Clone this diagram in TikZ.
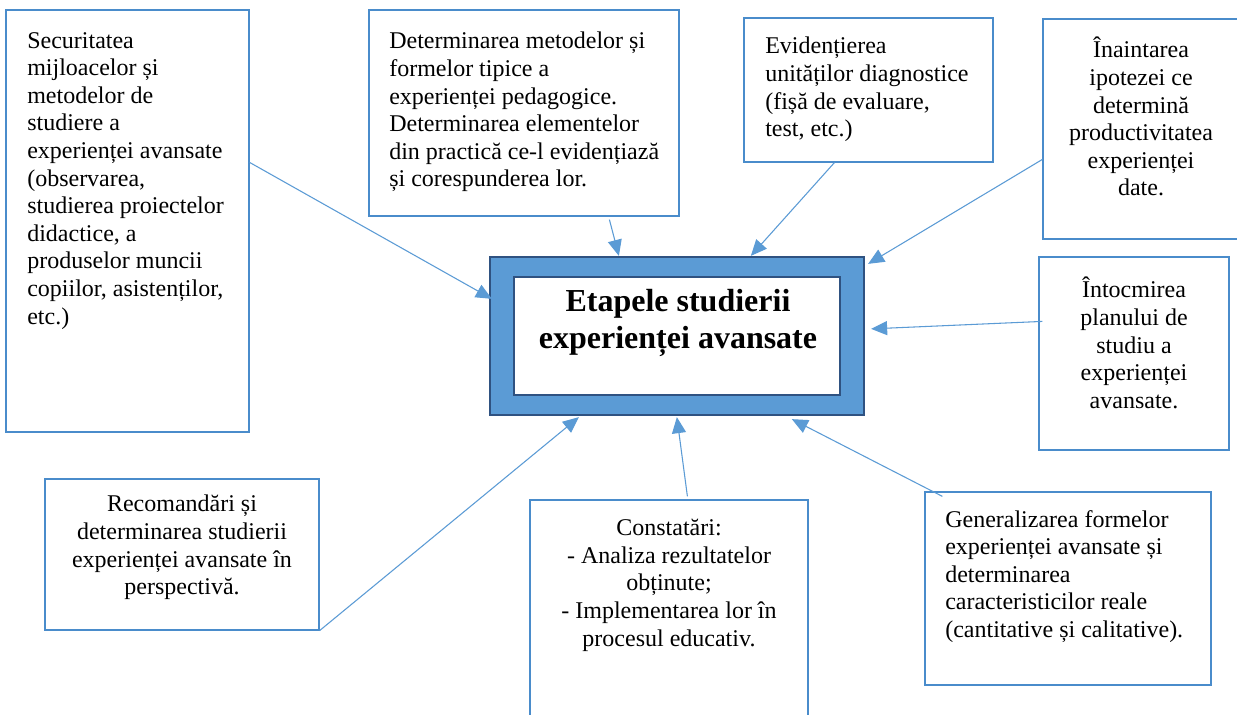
\documentclass[tikz,border=0pt]{standalone}
\usepackage{fontspec}
\setmainfont{Liberation Serif}
\usetikzlibrary{arrows.meta,calc,fit}
\definecolor{boxblue}{HTML}{5B9BD5}
\definecolor{lineblue}{HTML}{4A8CCB}
\definecolor{darkblue}{HTML}{2F5281}
\begin{document}
\begin{tikzpicture}[x=0.75pt,y=-0.75pt,
  box/.style={draw=lineblue,line width=0.9pt,inner sep=0pt,fill=white},
  txt/.style={inner sep=0pt,font=\fontsize{18}{20.7}\selectfont,execute at begin node=\strut},
  conn/.style={draw=boxblue,line width=0.8pt,-{Triangle[length=12pt,width=10.5pt]}},
  outerbox/.style={draw=darkblue,line width=1.7pt,fill=boxblue,inner sep=0pt},
  innerbox/.style={draw=darkblue,line width=1.5pt,fill=white,inner sep=0pt},
  title/.style={inner sep=0pt,align=center,font=\fontsize{24}{27.6}\selectfont\bfseries,execute at begin node=\strut}]
\useasboundingbox[fill=white] (0,0) rectangle (1237,714);

% central element
\node[outerbox,fit={(490,257) (864,415)}] (c) {};
\node[innerbox,fit={(514,277) (840,395)}] (ci) {};
\node[title,anchor=north] (title) at (678,289) {Etapele studierii\\experienței avansate};

% boxes
\node[box,fit={(6,10) (249,432)}] (b1) {};
\node[box,fit={(369,10) (679,216)}] (b2) {};
\node[box,fit={(744,18) (993,162)}] (b3) {};
\node[box,fit={(1043,19) (1242,239)}] (b4) {};
\node[box,fit={(1039,257) (1229,450)}] (b5) {};
\node[box,fit={(925,492) (1211,685)}] (b6) {};
\node[box,fit={(45,479) (319,630)}] (b7) {};
\node[box,fit={(530,500) (808,722)}] (b8) {};

% texts
\node[txt,anchor=north west,align=left] (t1) at (27,32) {Securitatea\\mijloacelor și\\metodelor de\\studiere a\\experienței avansate\\(observarea,\\studierea proiectelor\\didactice, a\\produselor muncii\\copiilor, asistenților,\\etc.)};
\node[txt,anchor=north west,align=left] (t2) at (389,32) {Determinarea metodelor și\\formelor tipice a\\experienței pedagogice.\\Determinarea elementelor\\din practică ce-l evidențiază\\și corespunderea lor.};
\node[txt,anchor=north west,align=left] (t3) at (765,37) {Evidențierea\\unităților diagnostice\\(fișă de evaluare,\\test, etc.)};
\node[txt,anchor=north,align=center] (t4) at (1141,37) {Înaintarea\\ipotezei ce\\determină\\productivitatea\\experienței\\date.};
\node[txt,anchor=north,align=center] (t5) at (1134,277) {Întocmirea\\planului de\\studiu a\\experienței\\avansate.};
\node[txt,anchor=north west,align=left] (t6) at (945,510) {Generalizarea formelor\\experienței avansate și\\determinarea\\caracteristicilor reale\\(cantitative și calitative).};
\node[txt,anchor=north,align=center] (t7) at (182,495) {Recomandări și\\determinarea studierii\\experienței avansate în\\perspectivă.};
\node[txt,anchor=north,align=center] (t8) at (669,519) {Constatări:\\- Analiza rezultatelor\\obținute;\\- Implementarea lor în\\procesul educativ.};

% connectors
\draw[conn] ($(b1.north east)+(0,153)$) -- ($(c.north west)+(3,43)$);
\draw[conn] ($(b2.south west)+(241,3)$) -- ($(c.north west)+(130,0)$);
\draw[conn] ($(b3.south west)+(91,0)$) -- ($(c.north west)+(262,0)$);
\draw[conn] ($(b4.north west)+(0,141)$) -- ($(c.north east)+(3,8)$);
\draw[conn] ($(b5.north west)+(4,65)$) -- ($(c.north east)+(6,73)$);
\draw[conn] ($(b6.north west)+(18,5)$) -- ($(c.south west)+(303,3)$);
\draw[conn] ($(b8.north west)+(158,-3)$) -- ($(c.south west)+(188,1)$);
\draw[conn] (b7.south east) -- ($(c.south west)+(90,1)$);
\end{tikzpicture}
\end{document}
